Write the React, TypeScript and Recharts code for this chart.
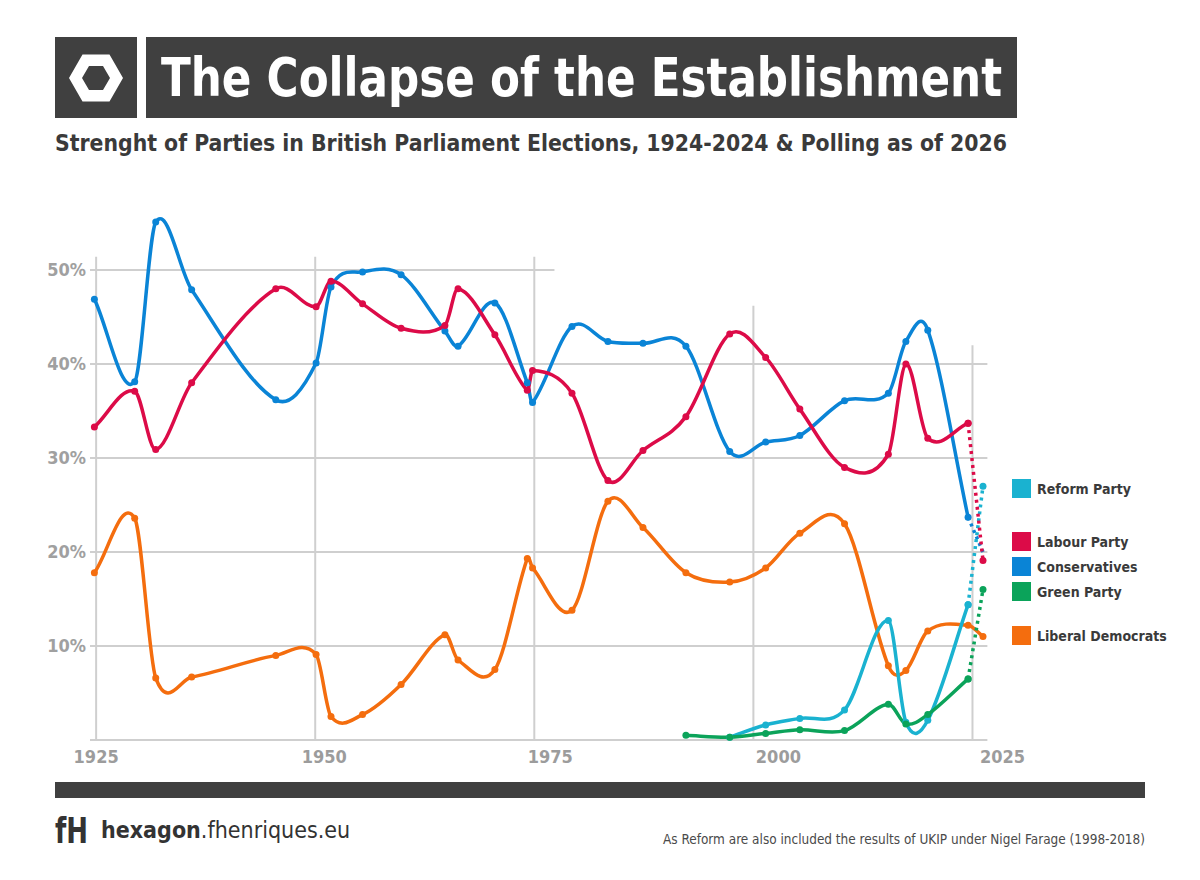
import React from 'react'
import { LineChart, Line, XAxis, YAxis, ReferenceLine } from 'recharts'

// election dates (fractional years) + 2026 polling
const years = [
  1924.8, 1929.4, 1931.8, 1935.9, 1945.5, 1950.1, 1951.8, 1955.4, 1959.8, 1964.8, 1966.3, 1970.5, 1974.2, 1974.8,
  1979.3, 1983.4, 1987.4, 1992.3, 1997.3, 2001.4, 2005.3, 2010.4, 2015.4, 2017.4, 2019.9, 2024.5, 2026.2,
]

const conservatives = [
  46.9, 38.1, 55.1, 47.9, 36.2, 40.1, 48.2, 49.8, 49.5, 43.5, 41.9, 46.5, 38.0, 35.9,
  44.0, 42.4, 42.2, 41.9, 30.7, 31.7, 32.4, 36.1, 36.9, 42.4, 43.6, 23.7, null,
]
const labour = [
  33.3, 37.1, 30.9, 38.0, 48.0, 46.1, 48.8, 46.4, 43.8, 44.1, 48.0, 43.1, 37.2, 39.3,
  36.9, 27.6, 30.8, 34.4, 43.2, 40.7, 35.2, 29.0, 30.4, 40.0, 32.1, 33.7, null,
]
const libDems = [
  17.8, 23.6, 6.6, 6.7, 9.0, 9.1, 2.5, 2.7, 5.9, 11.2, 8.5, 7.5, 19.3, 18.3,
  13.8, 25.4, 22.6, 17.8, 16.8, 18.3, 22.0, 23.0, 7.9, 7.4, 11.6, 12.2, 11.0,
]
const reform = [
  null, null, null, null, null, null, null, null, null, null, null, null, null, null,
  null, null, null, null, 0.3, 1.6, 2.3, 3.2, 12.7, 1.9, 2.1, 14.4, null,
]
const green = [
  null, null, null, null, null, null, null, null, null, null, null, null, null, null,
  null, null, null, 0.5, 0.3, 0.7, 1.1, 1.0, 3.8, 1.7, 2.7, 6.5, null,
]

// polling as of 2026 (dotted from the 2024 result)
const poll2026 = { con: 20.0, lab: 19.1, ref: 27.0, green: 16.0 }

const xTicks = [1925, 1950, 1975, 2000, 2025]
const yTicks = [10, 20, 30, 40, 50]
const xLabelShift = [0, 9, 16, 25, 30]

// irregular grid of the original
const hLines = [
  { y: 50, to: 1977.3 },
  { y: 40, to: 2026.7 },
  { y: 30, to: 2026.7 },
  { y: 20, to: 2026.7 },
  { y: 10, to: 2026.7 },
  { y: 0, to: 2026.7 },
]
const vLines = [
  { x: 1925, top: 51.4 },
  { x: 1950, top: 51.4 },
  { x: 1975, top: 51.4 },
  { x: 2000, top: 46.2 },
  { x: 2025, top: 42.0 },
]

const C = {
  con: '#0a84d6',
  lab: '#dc0b48',
  ld: '#f46d0e',
  ref: '#1ab2d0',
  green: '#0ba35a',
}

const legendItems = [
  { name: 'Reform Party', color: C.ref, top: 479 },
  { name: 'Labour Party', color: C.lab, top: 532 },
  { name: 'Conservatives', color: C.con, top: 557 },
  { name: 'Green Party', color: C.green, top: 582 },
  { name: 'Liberal Democrats', color: C.ld, top: 626 },
]

const last = years.length - 1
const data = years.map((year, i) => ({
  year,
  con: conservatives[i],
  lab: labour[i],
  ld: libDems[i],
  ref: reform[i],
  green: green[i],
  conPoll: i === last - 1 ? conservatives[i] : i === last ? poll2026.con : null,
  labPoll: i === last - 1 ? labour[i] : i === last ? poll2026.lab : null,
  refPoll: i === last - 1 ? reform[i] : i === last ? poll2026.ref : null,
  greenPoll: i === last - 1 ? green[i] : i === last ? poll2026.green : null,
}))

// cubic hermite in x with plain central slopes (overshoots a little, like the original)
const smoothX = (context: any) => {
  let xs: number[] = []
  let ys: number[] = []
  return {
    areaStart() {},
    areaEnd() {},
    lineStart() {
      xs = []
      ys = []
    },
    point(x: number, y: number) {
      xs.push(+x)
      ys.push(+y)
    },
    lineEnd() {
      const n = xs.length
      if (!n) return
      context.moveTo(xs[0], ys[0])
      if (n === 1) return
      const m = xs.map((_, i) => {
        const a = Math.max(0, i - 1)
        const b = Math.min(n - 1, i + 1)
        return (ys[b] - ys[a]) / (xs[b] - xs[a])
      })
      for (let i = 0; i < n - 1; i++) {
        const h = (xs[i + 1] - xs[i]) / 3
        context.bezierCurveTo(xs[i] + h, ys[i] + m[i] * h, xs[i + 1] - h, ys[i + 1] - m[i + 1] * h, xs[i + 1], ys[i + 1])
      }
    },
  }
}

const narrow = "'Liberation Sans Narrow', 'DejaVu Sans Condensed', sans-serif"
const dark = '#404040'

const XTick = ({ x, y, payload, index }: any) => (
  <text x={x + xLabelShift[index]} y={y + 15} textAnchor="middle" fill="#9c9c9c" fontSize={18} fontWeight={700} fontFamily={narrow}>
    {payload.value}
  </text>
)

const YTick = ({ x, y, payload }: any) => (
  <text x={x + 4} y={y + 6} textAnchor="end" fill="#a0a0a0" fontSize={18} fontWeight={700} fontFamily={narrow}>
    {payload.value}%
  </text>
)

const hexPath = (cx: number, cy: number, r: number) => {
  const pts = [0, 60, 120, 180, 240, 300].map((a) => {
    const t = (a * Math.PI) / 180
    return `${(cx + r * Math.cos(t)).toFixed(1)},${(cy + r * Math.sin(t)).toFixed(1)}`
  })
  return `M${pts.join('L')}Z`
}

function Decorations() {
  return (
    <svg width={1200} height={880} style={{ position: 'absolute', left: 0, top: 0 }} fontFamily={narrow}>
      <rect x={55} y={37} width={82} height={81} fill={dark} />
      <path d={`${hexPath(96, 78, 27)} ${hexPath(96, 78, 14)}`} fill="#fff" fillRule="evenodd" />
      <rect x={146} y={37} width={871} height={81} fill={dark} />
      <text x={161} y={96} fill="#fff" fontSize={54} fontWeight={700} textLength={841} lengthAdjust="spacingAndGlyphs">
        The Collapse of the Establishment
      </text>
      <text x={55} y={151} fill="#3a3a3a" fontSize={23} fontWeight={700} textLength={952} lengthAdjust="spacingAndGlyphs">
        Strenght of Parties in British Parliament Elections, 1924-2024 &amp; Polling as of 2026
      </text>

      {legendItems.map((d) => (
        <g key={d.name}>
          <rect x={1012} y={d.top} width={19} height={19} fill={d.color} />
          <text x={1037} y={d.top + 15} fill="#3a3a3a" fontSize={14} fontWeight={700}>
            {d.name}
          </text>
        </g>
      ))}

      <rect x={55} y={782} width={1090} height={16} fill={dark} />
      <text x={55} y={843} fill="#333" fontSize={36} fontWeight={700} textLength={33} lengthAdjust="spacingAndGlyphs">
        fH
      </text>
      <text x={101} y={838} fill="#333" fontSize={23}>
        <tspan fontWeight={700}>hexagon</tspan>
        <tspan>.fhenriques.eu</tspan>
      </text>
      <text x={1145} y={844} fill="#4a4a4a" fontSize={14} textAnchor="end" textLength={482} lengthAdjust="spacingAndGlyphs">
        As Reform are also included the results of UKIP under Nigel Farage (1998-2018)
      </text>
    </svg>
  )
}

const dot = (color: string) => ({ r: 3.5, fill: color, stroke: color, strokeWidth: 0 })

export default function App() {
  return (
    <div style={{ position: 'absolute', left: 0, top: 0, width: 1200, height: 880, background: '#fff' }}>
      <Decorations />
      <div style={{ position: 'absolute', left: 0, top: 0 }}>
        <LineChart width={1200} height={880} data={data} margin={{ top: 176, right: 210, bottom: 110, left: 30 }}>
          <XAxis
            dataKey="year"
            type="number"
            domain={[1924.3, 2027]}
            ticks={xTicks}
            axisLine={false}
            tickLine={false}
            height={30}
            tick={<XTick />}
            allowDataOverflow
          />
          <YAxis type="number" domain={[0, 60]} ticks={yTicks} axisLine={false} tickLine={false} width={60} tick={<YTick />} />
          {hLines.map((l) => (
            <ReferenceLine
              key={`h${l.y}`}
              segment={[{ x: 1924.3, y: l.y }, { x: l.to, y: l.y }]}
              stroke="#cfcfcf"
              strokeWidth={2}
              ifOverflow="visible"
            />
          ))}
          {vLines.map((l) => (
            <ReferenceLine
              key={`v${l.x}`}
              segment={[{ x: l.x, y: 0 }, { x: l.x, y: l.top }]}
              stroke="#cfcfcf"
              strokeWidth={2}
              ifOverflow="visible"
            />
          ))}

          <Line dataKey="ld" type={smoothX as any} stroke={C.ld} strokeWidth={3.5} dot={dot(C.ld)} activeDot={false} isAnimationActive={false} />
          <Line dataKey="ref" type={smoothX as any} stroke={C.ref} strokeWidth={3.5} dot={dot(C.ref)} activeDot={false} isAnimationActive={false} />
          <Line dataKey="green" type={smoothX as any} stroke={C.green} strokeWidth={3.5} dot={dot(C.green)} activeDot={false} isAnimationActive={false} />
          <Line dataKey="con" type={smoothX as any} stroke={C.con} strokeWidth={3.5} dot={dot(C.con)} activeDot={false} isAnimationActive={false} />
          <Line dataKey="lab" type={smoothX as any} stroke={C.lab} strokeWidth={3.5} dot={dot(C.lab)} activeDot={false} isAnimationActive={false} />

          <Line dataKey="conPoll" type="linear" stroke={C.con} strokeWidth={3.5} strokeDasharray="3 4" dot={false} activeDot={false} isAnimationActive={false} />
          <Line dataKey="refPoll" type="linear" stroke={C.ref} strokeWidth={3.5} strokeDasharray="3 4" dot={dot(C.ref)} activeDot={false} isAnimationActive={false} />
          <Line dataKey="greenPoll" type="linear" stroke={C.green} strokeWidth={3.5} strokeDasharray="3 4" dot={dot(C.green)} activeDot={false} isAnimationActive={false} />
          <Line dataKey="labPoll" type="linear" stroke={C.lab} strokeWidth={3.5} strokeDasharray="3 4" dot={dot(C.lab)} activeDot={false} isAnimationActive={false} />
        </LineChart>
      </div>
    </div>
  )
}
